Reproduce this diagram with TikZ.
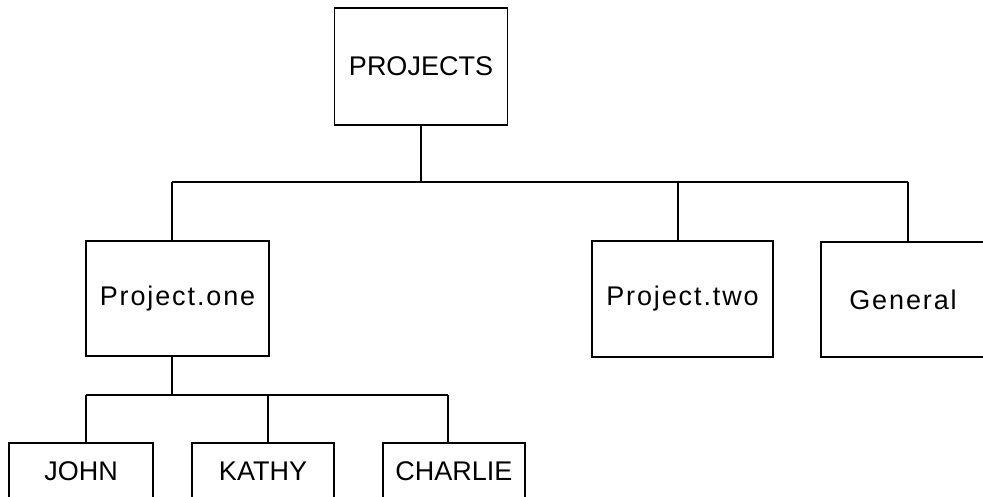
\documentclass[tikz,border=0pt]{standalone}
\usepackage{fontspec}
\setmainfont{Liberation Sans}
\newfontfamily\widesans[LetterSpace=7]{Liberation Sans}
\begin{document}
\begin{tikzpicture}[x=1pt,y=-1pt,
  box/.style={draw, line width=1.3pt, inner sep=0pt, font=\fontsize{27}{31}\selectfont},
  wbox/.style={box, font=\fontsize{27}{31}\selectfont\widesans},
  conn/.style={line width=1.3pt}]
\clip (0,0) rectangle (983,497);
\node[box, minimum width=173pt, minimum height=117pt] (proj) at (421,66.5) {PROJECTS};
\node[wbox, minimum width=183pt, minimum height=115pt] (one) at (177.5,298.5) {Project.one};
\node[wbox, minimum width=181pt, minimum height=116pt] (two) at (682.5,299) {Project.two};
\node[wbox, minimum width=164pt, minimum height=115pt] (gen) at (903,299.5) {General};
\node[box, minimum width=144pt, minimum height=57pt] (john) at (81,471.5) {JOHN};
\node[box, minimum width=142pt, minimum height=57pt] (kathy) at (263,471.5) {KATHY};
\node[box, minimum width=142pt, minimum height=57pt] (charlie) at (454,471.5) {CHARLIE};
% upper bus
\coordinate (ua) at (172,182);
\coordinate (ub) at (678,182);
\coordinate (uc) at (908,182);
\draw[conn] (proj.south) -- (proj.south |- ua);
\draw[conn] (ua) -- (uc);
\draw[conn] (ua) -- (ua |- one.north);
\draw[conn] (ub) -- (ub |- two.north);
\draw[conn] (uc) -- (uc |- gen.north);
% lower bus
\coordinate (la) at (86,395);
\coordinate (lm) at (172,395);
\coordinate (lb) at (268,395);
\coordinate (lc) at (448,395);
\draw[conn] (lm |- one.south) -- (lm);
\draw[conn] (la) -- (lc);
\draw[conn] (la) -- (la |- john.north);
\draw[conn] (lb) -- (lb |- kathy.north);
\draw[conn] (lc) -- (lc |- charlie.north);
\end{tikzpicture}
\end{document}
